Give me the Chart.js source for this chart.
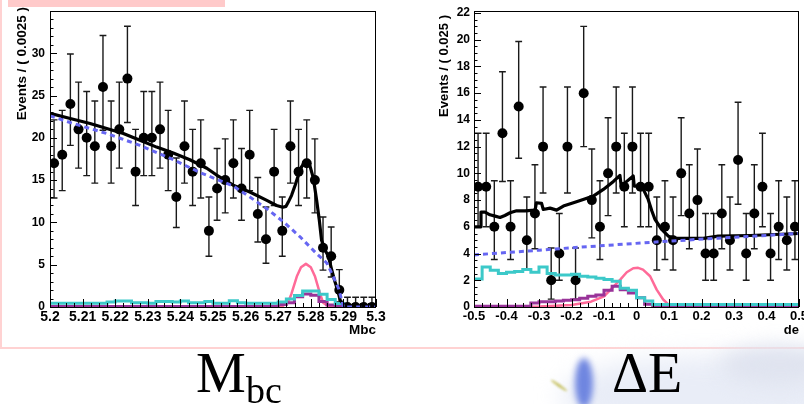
<!DOCTYPE html>
<html>
<head>
<meta charset="utf-8">
<title>Mbc / dE fit projections</title>
<script src="https://cdn.jsdelivr.net/npm/chart.js@4.4.0/dist/chart.umd.min.js"></script>
<style>
  html, body { margin: 0; padding: 0; }
  body { width: 804px; height: 404px; overflow: hidden; background: #fff; position: relative; }
  canvas { position: absolute; top: 0; }
  #mbcPlot { left: 0; }
  #dePlot { left: 400px; }
  .pink { position: absolute; background: #ffd2d2; }
  .haze { position: absolute; border-radius: 50%; }
  .cap { position: absolute; font-family: "Liberation Serif", "Times New Roman", serif; color: #000; line-height: 1; white-space: nowrap; }
</style>
</head>
<body>
<div class="pink" style="left:8px;top:0;width:217px;height:7px;background:#ffcaca"></div>
<div class="pink" style="left:0;top:0;width:2px;height:349px"></div>
<div class="pink" style="left:0;top:347px;width:804px;height:2px"></div>

<div class="haze" style="left:560px;top:356px;width:290px;height:80px;background:#e9edf7;filter:blur(12px)"></div>
<div class="haze" style="left:720px;top:345px;width:120px;height:40px;background:#dfe3ef;filter:blur(10px)"></div>
<div class="haze" style="left:575px;top:358px;width:18px;height:50px;background:#6f86e0;filter:blur(3px);z-index:2"></div>
<div class="haze" style="left:549px;top:384px;width:20px;height:3px;background:#c9c46a;transform:rotate(35deg);filter:blur(1px)"></div>

<canvas id="mbcPlot" width="400" height="345"></canvas>
<canvas id="dePlot" width="404" height="345"></canvas>

<div class="cap" style="left:196px;top:345px;font-size:56px">M</div>
<div class="cap" style="left:246px;top:371px;font-size:38px">bc</div>
<div class="cap" style="left:612px;top:345px;font-size:56px">ΔE</div>

<script>
// ---- Mbc projection ----
const mbcRange = [5.2, 5.3];
const mbcBinWidth = 0.0025;
const mbcTickLabels = ['5.2', '5.21', '5.22', '5.23', '5.24', '5.25', '5.26', '5.27', '5.28', '5.29', '5.3'];
const mbcYTickLabels = ['0', '5', '10', '15', '20', '25', '30'];
const mbcCounts = [17, 18, 24, 21, 20, 19, 26, 19, 21, 27, 16, 20, 20, 21, 18, 13, 19, 16, 17, 9,
                   14, 15, 17, 14, 18, 11, 8, 16, 9, 19, 16, 17, 15, 7, 6, 2, 0, 0, 0, 0];
// peaking background (cyan) and cross-feed (purple) templates
const mbcCyan = [0.45, 0.45, 0.45, 0.45, 0.45, 0.45, 0.45, 0.6, 0.72, 0.72, 0.5, 0.5, 0.45, 0.65, 0.65, 0.6, 0.72, 0.5, 0.5, 0.65,
                 0.45, 0.45, 0.75, 0.5, 0.45, 0.45, 0.45, 0.45, 0.6, 0.95, 1.35, 1.9, 1.9, 1.5, 0.9, 0.4, 0.05, 0.05, 0.05, 0.05];
const mbcPurple = [0.05, 0.05, 0.05, 0.05, 0.05, 0.05, 0.05, 0.05, 0.05, 0.05, 0.05, 0.05, 0.05, 0.05, 0.05, 0.05, 0.05, 0.05, 0.05, 0.05,
                   0.05, 0.05, 0.05, 0.05, 0.05, 0.05, 0.05, 0.1, 0.3, 0.5, 1.2, 1.55, 1.4, 0.65, 0.25, 0.05, 0, 0, 0, 0];
// total fit
const mbcTotalX = [5.2, 5.2071, 5.2123, 5.2174, 5.2225, 5.2276, 5.2327, 5.2378, 5.2429, 5.2481, 5.2511, 5.2562, 5.2613, 5.2665,
                   5.2695, 5.2714, 5.2724, 5.2731, 5.2741, 5.2752, 5.2762, 5.2772, 5.2782, 5.2795, 5.2808, 5.2818, 5.2826,
                   5.2833, 5.2844, 5.2854, 5.2864, 5.2874, 5.2884, 5.289, 5.2905, 5.3];
const mbcTotalY = [22.9, 22.2, 21.7, 21.1, 20.5, 19.7, 18.9, 18.2, 17.4, 16.4, 15.6, 14.4, 13.6, 12.6,
                   12.0, 11.8, 11.9, 12.4, 13.2, 14.4, 15.6, 16.6, 17.2, 17.0, 15.2, 12.6, 10.3,
                   7.9, 6.7, 6.0, 4.4, 3.0, 1.8, 0.8, 0.15, 0.1];
// continuum (ARGUS) component
const mbcBkgX = [5.2, 5.207, 5.2175, 5.2276, 5.2379, 5.246, 5.2562, 5.2613, 5.2664, 5.2715, 5.2767, 5.2818, 5.2849, 5.2869, 5.2885, 5.2895, 5.29, 5.3];
const mbcBkgY = [22.6, 21.7, 20.5, 19.1, 17.4, 15.9, 14.3, 13.0, 11.65, 10.1, 8.3, 6.3, 5.2, 3.6, 2.2, 0.8, 0, 0];
// signal component
const mbcSigX = [5.2, 5.268, 5.2715, 5.2733, 5.2741, 5.2757, 5.277, 5.2785, 5.28, 5.2813, 5.2828, 5.2838, 5.2855, 5.29];
const mbcSigY = [0, 0, 0.15, 0.8, 1.6, 3.6, 4.7, 5.1, 4.7, 3.6, 1.6, 0.5, 0.05, 0];

// ---- dE projection ----
const deRange = [-0.5, 0.5];
const deBinWidth = 0.025;
const deTickLabels = ['-0.5', '-0.4', '-0.3', '-0.2', '-0.1', '0', '0.1', '0.2', '0.3', '0.4', '0.5'];
const deYTickLabels = ['0', '2', '4', '6', '8', '10', '12', '14', '16', '18', '20', '22'];
const deCounts = [9, 9, 6, 13, 6, 15, 5, 7, 12, 2, 4, 12, 2, 16, 8, 6, 10, 12, 9, 12,
                  9, 9, 5, 6, 5, 10, 7, 8, 4, 4, 7, 5, 11, 4, 7, 9, 4, 6, 5, 6];
const deCyan = [2.1, 3.0, 2.75, 2.5, 2.6, 2.65, 2.8, 2.6, 3.0, 2.5, 2.4, 2.4, 2.45, 2.3, 2.25, 2.15, 2.05, 1.93, 1.4, 1.25,
                0.7, 0.45, 0.18, 0.18, 0.18, 0.18, 0.18, 0.18, 0.18, 0.18, 0.18, 0.18, 0.18, 0.18, 0.18, 0.18, 0.18, 0.18, 0.18, 0.18];
const dePurple = [0.05, 0.05, 0.05, 0.05, 0.05, 0.05, 0.05, 0.3, 0.4, 0.4, 0.45, 0.5, 0.55, 0.65, 0.8, 0.9, 1.25, 1.55, 1.3, 1.05,
                  0.7, 0.2, 0, 0, 0, 0, 0, 0, 0, 0, 0, 0, 0, 0, 0, 0, 0, 0, 0, 0];
const deTotalX = [-0.5, -0.4815, -0.4785, -0.466, -0.451, -0.435, -0.42, -0.405, -0.389, -0.369, -0.343, -0.312, -0.308,
                  -0.292, -0.287, -0.266, -0.246, -0.225, -0.194, -0.164, -0.133, -0.102, -0.071, -0.051, -0.047, -0.03,
                  -0.01, -0.007, 0.0055, 0.021, 0.036, 0.047, 0.057, 0.0775, 0.098, 0.124, 0.2055, 0.2515, 0.35, 0.5];
const deTotalY = [6.0, 6.0, 7.1, 7.1, 6.9, 6.8, 6.7, 6.85, 7.05, 7.2, 7.2, 7.25, 7.8,
                  7.75, 7.3, 7.4, 7.25, 7.55, 7.8, 8.05, 8.3, 8.8, 9.4, 9.85, 9.05, 9.4,
                  9.8, 9.05, 9.05, 8.8, 8.05, 7.2, 6.55, 5.8, 5.3, 5.13, 5.13, 5.3, 5.35, 5.5];
const deBkgX = [-0.5, -0.3, -0.2, 0.05, 0.25, 0.5];
const deBkgY = [3.9, 4.25, 4.43, 4.85, 5.15, 5.5];
const deSigX = [-0.5, -0.3, -0.2, -0.14, -0.1, -0.07, -0.05, -0.03, -0.01, 0.005, 0.02, 0.042, 0.062, 0.082, 0.098, 0.11];
const deSigY = [0, 0.03, 0.15, 0.4, 0.8, 1.55, 2.05, 2.6, 2.9, 2.93, 2.8, 2.3, 1.3, 0.56, 0.2, 0];

const BOLD = '"Liberation Sans", Arial, Helvetica, sans-serif';

function pairs(xs, ys) {
  return xs.map((x, i) => ({ x: x, y: ys[i] }));
}

// histogram as a stepped line: one point per left bin edge plus the closing edge
function histSteps(lo, w, vals) {
  const pts = vals.map((v, i) => ({ x: lo + i * w, y: v }));
  pts.push({ x: lo + vals.length * w, y: vals[vals.length - 1] });
  return pts;
}

// data points at bin centres with RooFit-style Poisson intervals
function dataPoints(lo, w, counts) {
  return counts.map((n, i) => ({
    x: lo + (i + 0.5) * w,
    y: n,
    lo: n === 0 ? 0 : n - Math.sqrt(n),
    hi: n === 0 ? 1.15 : n + Math.sqrt(n) + 1
  }));
}

// frame, inward ticks, error bars and axis titles in the ROOT look
const rootFrame = {
  id: 'rootFrame',
  beforeDatasetsDraw(chart) {
    const { ctx, chartArea: a, scales: { x, y } } = chart;
    ctx.save();
    ctx.beginPath();
    ctx.rect(a.left, a.top, a.right - a.left, a.bottom - a.top + 2);
    ctx.clip();
    ctx.strokeStyle = '#1a1a1a';
    ctx.lineWidth = 1.4;
    chart.data.datasets.forEach(ds => {
      if (!ds.errorBars) return;
      ds.data.forEach(p => {
        const px = x.getPixelForValue(p.x);
        const top = y.getPixelForValue(p.hi);
        const bot = y.getPixelForValue(p.lo);
        ctx.beginPath();
        ctx.moveTo(px, top); ctx.lineTo(px, bot);
        ctx.moveTo(px - 3.4, top); ctx.lineTo(px + 3.4, top);
        ctx.moveTo(px - 3.4, bot); ctx.lineTo(px + 3.4, bot);
        ctx.stroke();
      });
    });
    ctx.restore();
  },
  afterDraw(chart, args, o) {
    const { ctx, chartArea: a, scales: { x, y } } = chart;
    ctx.save();
    ctx.strokeStyle = '#000';
    ctx.lineWidth = 1;
    ctx.strokeRect(a.left + 0.5, a.top + 0.5, a.right - a.left - 1, a.bottom - a.top);

    ctx.beginPath();
    const nx = Math.round((x.max - x.min) / o.xMinor);
    for (let i = 0; i <= nx; i++) {
      const px = Math.round(x.getPixelForValue(x.min + i * o.xMinor)) + 0.5;
      const len = i % o.xPerMajor === 0 ? 8 : 4;
      ctx.moveTo(px, a.bottom);
      ctx.lineTo(px, a.bottom - len);
    }
    const ny = Math.floor((y.max - y.min) / o.yMinor + 1e-6);
    for (let i = 0; i <= ny; i++) {
      const py = Math.round(y.getPixelForValue(y.min + i * o.yMinor)) + 0.5;
      const len = i % o.yPerMajor === 0 ? 7 : 3.5;
      ctx.moveTo(a.left, py);
      ctx.lineTo(a.left + len, py);
    }
    ctx.stroke();

    ctx.fillStyle = '#000';
    ctx.font = 'bold ' + o.titleSize + 'px ' + BOLD;
    ctx.textAlign = 'right';
    ctx.textBaseline = 'middle';
    ctx.fillText(o.xTitle, a.right, o.xTitleY);
    ctx.translate(o.yTitleX, o.yTitleTop);
    ctx.rotate(-Math.PI / 2);
    ctx.fillText(o.yTitle, 0, 0);
    ctx.restore();
  }
};

function rootPanel(id, p) {
  const el = document.getElementById(id);
  const W = el.width, H = el.height;
  const hist = (data, color, order) => ({
    type: 'line', data: data, stepped: 'before', borderColor: color, borderWidth: 3,
    pointRadius: 0, fill: false, order: order
  });
  const curve = (data, color, width, order, dash) => ({
    type: 'line', data: data, borderColor: color, borderWidth: width, borderDash: dash || [],
    borderJoinStyle: 'round', pointRadius: 0, tension: 0, fill: false, order: order
  });
  return new Chart(el, {
    type: 'line',
    data: {
      datasets: [
        curve(pairs(p.bkgX, p.bkgY), '#6666f2', 3, 1, [5, 4]),
        curve(pairs(p.totX, p.totY), '#000000', 3.2, 2),
        hist(histSteps(p.range[0], p.bin, p.cyan), '#3cc9c9', 3),
        hist(histSteps(p.range[0], p.bin, p.purple), '#993399', 4),
        curve(pairs(p.sigX, p.sigY), '#ff6a98', 2.5, 5),
        {
          type: 'scatter', data: dataPoints(p.range[0], p.bin, p.counts), errorBars: true,
          pointRadius: 5, pointBackgroundColor: '#000', pointBorderWidth: 0, showLine: false, order: 6
        }
      ]
    },
    options: {
      responsive: false,
      animation: false,
      devicePixelRatio: 1,
      events: [],
      layout: { padding: { left: 0, top: p.area.top, right: W - p.area.right, bottom: 0 } },
      plugins: {
        legend: { display: false },
        tooltip: { enabled: false },
        rootFrame: {
          xMinor: p.bin, xPerMajor: 4, yMinor: p.yMinor, yPerMajor: p.yPerMajor,
          xTitle: p.xTitle, xTitleY: 330, yTitle: p.yTitle, yTitleX: p.yTitleX, yTitleTop: p.yTitleTop,
          titleSize: p.titleSize
        }
      },
      scales: {
        x: {
          type: 'linear', min: p.range[0], max: p.range[1],
          grid: { display: false, drawTicks: false }, border: { display: false },
          ticks: {
            stepSize: p.xStep, includeBounds: false, autoSkip: false, maxRotation: 0, padding: 2,
            color: '#000', font: { family: BOLD, weight: 'bold', size: p.xFont },
            callback: (v, i) => p.xLabels[i]
          },
          afterFit: s => { s.height = H - p.area.bottom; s.paddingLeft = 0; s.paddingRight = 0; }
        },
        y: {
          min: 0, max: p.yMax,
          grid: { display: false, drawTicks: false }, border: { display: false },
          ticks: {
            stepSize: p.yStep, includeBounds: false, padding: p.yPad,
            color: '#000', font: { family: BOLD, weight: 'bold', size: 12 },
            callback: (v, i) => p.yLabels[i]
          },
          afterFit: s => { s.width = p.area.left; s.paddingTop = 0; s.paddingBottom = 0; }
        }
      }
    },
    plugins: [rootFrame]
  });
}

rootPanel('mbcPlot', {
  area: { left: 50, right: 376, top: 11, bottom: 307 },
  range: mbcRange, bin: mbcBinWidth, counts: mbcCounts, cyan: mbcCyan, purple: mbcPurple,
  totX: mbcTotalX, totY: mbcTotalY, bkgX: mbcBkgX, bkgY: mbcBkgY, sigX: mbcSigX, sigY: mbcSigY,
  xStep: 0.01, xLabels: mbcTickLabels, xFont: 14, xTitle: 'Mbc',
  yMax: 34.99, yStep: 5, yMinor: 1, yPerMajor: 5, yLabels: mbcYTickLabels, yPad: 5,
  yTitle: 'Events / ( 0.0025 )', yTitleX: 22, yTitleTop: 7, titleSize: 13.5
});

rootPanel('dePlot', {
  area: { left: 74, right: 399, top: 11, bottom: 307 },
  range: deRange, bin: deBinWidth, counts: deCounts, cyan: deCyan, purple: dePurple,
  totX: deTotalX, totY: deTotalY, bkgX: deBkgX, bkgY: deBkgY, sigX: deSigX, sigY: deSigY,
  xStep: 0.1, xLabels: deTickLabels, xFont: 13, xTitle: 'de',
  yMax: 22.15, yStep: 2, yMinor: 0.5, yPerMajor: 4, yLabels: deYTickLabels, yPad: 4,
  yTitle: 'Events / ( 0.025 )', yTitleX: 44, yTitleTop: 15, titleSize: 13
});
</script>
</body>
</html>
